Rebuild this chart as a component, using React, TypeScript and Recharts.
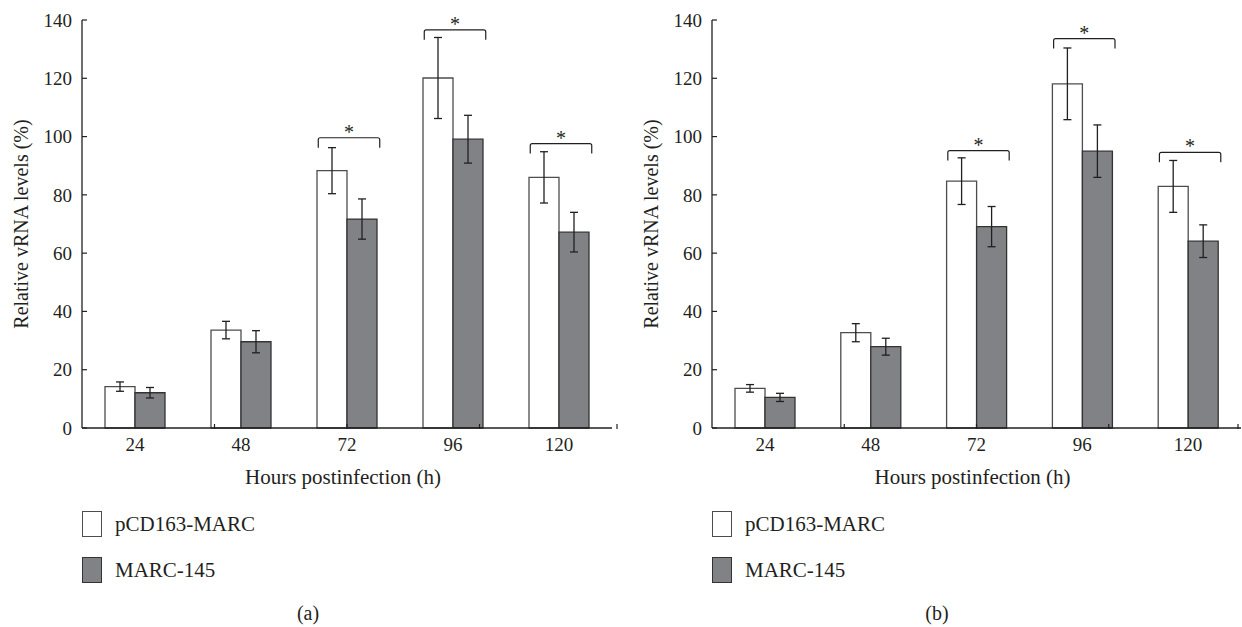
import React from 'react';
import { BarChart, Bar, XAxis, YAxis, ErrorBar, ReferenceArea, Legend } from 'recharts';

const categories = ['24', '48', '72', '96', '120'];
const yTicks = [0, 20, 40, 60, 80, 100, 120, 140];
const edgeTicks = [1, 2, 3, 4, 5];
const seriesNames = ['pCD163-MARC', 'MARC-145'];

const aPcd = [14.2, 33.6, 88.3, 120.1, 86.0];
const aPcdErr = [1.6, 3.0, 7.9, 13.9, 8.8];
const aMarc = [12.1, 29.6, 71.7, 99.1, 67.2];
const aMarcErr = [1.8, 3.8, 6.9, 8.2, 6.8];

const bPcd = [13.6, 32.7, 84.7, 118.1, 82.9];
const bPcdErr = [1.3, 3.1, 8.0, 12.3, 8.9];
const bMarc = [10.5, 27.9, 69.1, 95.0, 64.1];
const bMarcErr = [1.4, 2.9, 6.9, 9.0, 5.6];

const sigHours = ['72', '96', '120'];
const aBracket = [99.6, 136.6, 97.6];
const bBracket = [95.2, 133.6, 94.6];
const bracketLeg = 3.4;

const FONT = '"Liberation Serif", "Times New Roman", serif';
const INK = '#231f20';
const GRAY = '#808285';

const build = (p: number[], pe: number[], m: number[], me: number[]) =>
  categories.map((c, i) => ({ hour: c, pcd: p[i], pcdErr: pe[i], marc: m[i], marcErr: me[i] }));

const BracketShape = (props: any) => {
  const { x, y, width, height } = props;
  const cx = x + width / 2 + 2;
  const half = width * 0.29;
  const l = cx - half;
  const r = cx + half;
  const b = y + height;
  const rad = 2;
  const d = `M${l},${b} L${l},${y + rad} Q${l},${y} ${l + rad},${y} L${r - rad},${y} Q${r},${y} ${r},${y + rad} L${r},${b}`;
  return (
    <g>
      <path d={d} fill="none" stroke={INK} strokeWidth={1.2} />
      <text x={cx} y={y + 1} textAnchor="middle" fontSize={20} style={{ fontFamily: FONT }} fill={INK}>
        *
      </text>
    </g>
  );
};

const EdgeTick = (props: any) => {
  const { x, y } = props;
  return <line x1={x} x2={x} y1={y} y2={y - 5} stroke={INK} strokeWidth={1.2} />;
};

const LegendContent = () => (
  <div style={{ fontFamily: FONT, fontSize: 21, color: INK }}>
    {seriesNames.map((name, i) => (
      <div key={name} style={{ display: 'flex', alignItems: 'center', height: 26, marginBottom: i === 0 ? 19.5 : 0 }}>
        <div
          style={{
            width: 20,
            height: 26,
            boxSizing: 'border-box',
            border: `1.3px solid ${i === 0 ? '#4d4d4f' : '#333'}`,
            background: i === 0 ? '#ffffff' : GRAY,
          }}
        />
        <span style={{ marginLeft: 13, whiteSpace: 'nowrap', lineHeight: '26px' }}>{name}</span>
      </div>
    ))}
  </div>
);

type PanelProps = {
  data: any[];
  brackets: number[];
  yAxisWidth: number;
  marginRight: number;
  yLabelDx: number;
  caption: string;
  captionX: number;
};

function Panel({ data, brackets, yAxisWidth, marginRight, yLabelDx, caption, captionX }: PanelProps) {
  return (
    <div style={{ position: 'relative', width: 621, height: 627, fontFamily: FONT }}>
      <BarChart
        width={621}
        height={627}
        data={data}
        margin={{ top: 20, right: marginRight, bottom: 197, left: 0 }}
        barGap={0}
        barSize={30}
        style={{ fontFamily: FONT }}
      >
        <XAxis
          dataKey="hour"
          height={1}
          axisLine={{ stroke: INK, strokeWidth: 1.3 }}
          tickLine={false}
          tickSize={6}
          tickMargin={4}
          tick={{ fontSize: 19, fill: INK, fontFamily: FONT }}
          label={{
            value: 'Hours postinfection (h)',
            position: 'bottom',
            offset: 40,
            dx: -4,
            fontSize: 21,
            fill: INK,
            fontFamily: FONT,
          }}
        />
        <XAxis
          xAxisId="edges"
          type="number"
          domain={[0, 5]}
          ticks={edgeTicks}
          allowDataOverflow
          height={1}
          tick={EdgeTick}
          tickSize={0}
          tickMargin={0}
          axisLine={false}
          tickLine={false}
        />
        <YAxis
          width={yAxisWidth}
          domain={[0, 140]}
          ticks={yTicks}
          interval={0}
          tickSize={-5}
          tickMargin={15}
          axisLine={{ stroke: INK, strokeWidth: 1.3 }}
          tickLine={{ stroke: INK, strokeWidth: 1.2 }}
          tick={{ fontSize: 19, fill: INK, fontFamily: FONT }}
          label={{
            value: 'Relative vRNA levels (%)',
            angle: -90,
            position: 'center',
            dx: yLabelDx,
            fontSize: 20,
            fill: INK,
            fontFamily: FONT,
          }}
        />
        <Bar dataKey="pcd" name={seriesNames[0]} fill="#ffffff" stroke="#4d4d4f" strokeWidth={1.3} isAnimationActive={false}>
          <ErrorBar dataKey="pcdErr" width={4} stroke={INK} strokeWidth={1.3} direction="y" />
        </Bar>
        <Bar dataKey="marc" name={seriesNames[1]} fill={GRAY} stroke="#333333" strokeWidth={1.3} isAnimationActive={false}>
          <ErrorBar dataKey="marcErr" width={4} stroke={INK} strokeWidth={1.3} direction="y" />
        </Bar>
        {sigHours.map((h, i) => (
          <ReferenceArea
            key={h}
            x1={h}
            x2={h}
            y1={brackets[i] - bracketLeg}
            y2={brackets[i]}
            shape={BracketShape}
            ifOverflow="visible"
          />
        ))}
        <Legend
          layout="vertical"
          align="center"
          verticalAlign="middle"
          content={LegendContent}
          wrapperStyle={{ left: yAxisWidth, top: 511, width: 'auto' }}
        />
      </BarChart>
      <div
        style={{
          position: 'absolute',
          left: captionX - 40,
          width: 80,
          top: 601,
          textAlign: 'center',
          fontFamily: FONT,
          fontSize: 20,
          color: INK,
          lineHeight: '24px',
        }}
      >
        {caption}
      </div>
    </div>
  );
}

export default function App() {
  const dataA = build(aPcd, aPcdErr, aMarc, aMarcErr);
  const dataB = build(bPcd, bPcdErr, bMarc, bMarcErr);
  return (
    <div style={{ position: 'absolute', left: 0, top: 0, width: 1242, height: 627, background: '#fff', display: 'flex', fontFamily: FONT }}>
      <Panel data={dataA} brackets={aBracket} yAxisWidth={82} marginRight={9} yLabelDx={-20} caption="(a)" captionX={308} />
      <Panel data={dataB} brackets={bBracket} yAxisWidth={91} marginRight={1} yLabelDx={-16} caption="(b)" captionX={316} />
    </div>
  );
}
